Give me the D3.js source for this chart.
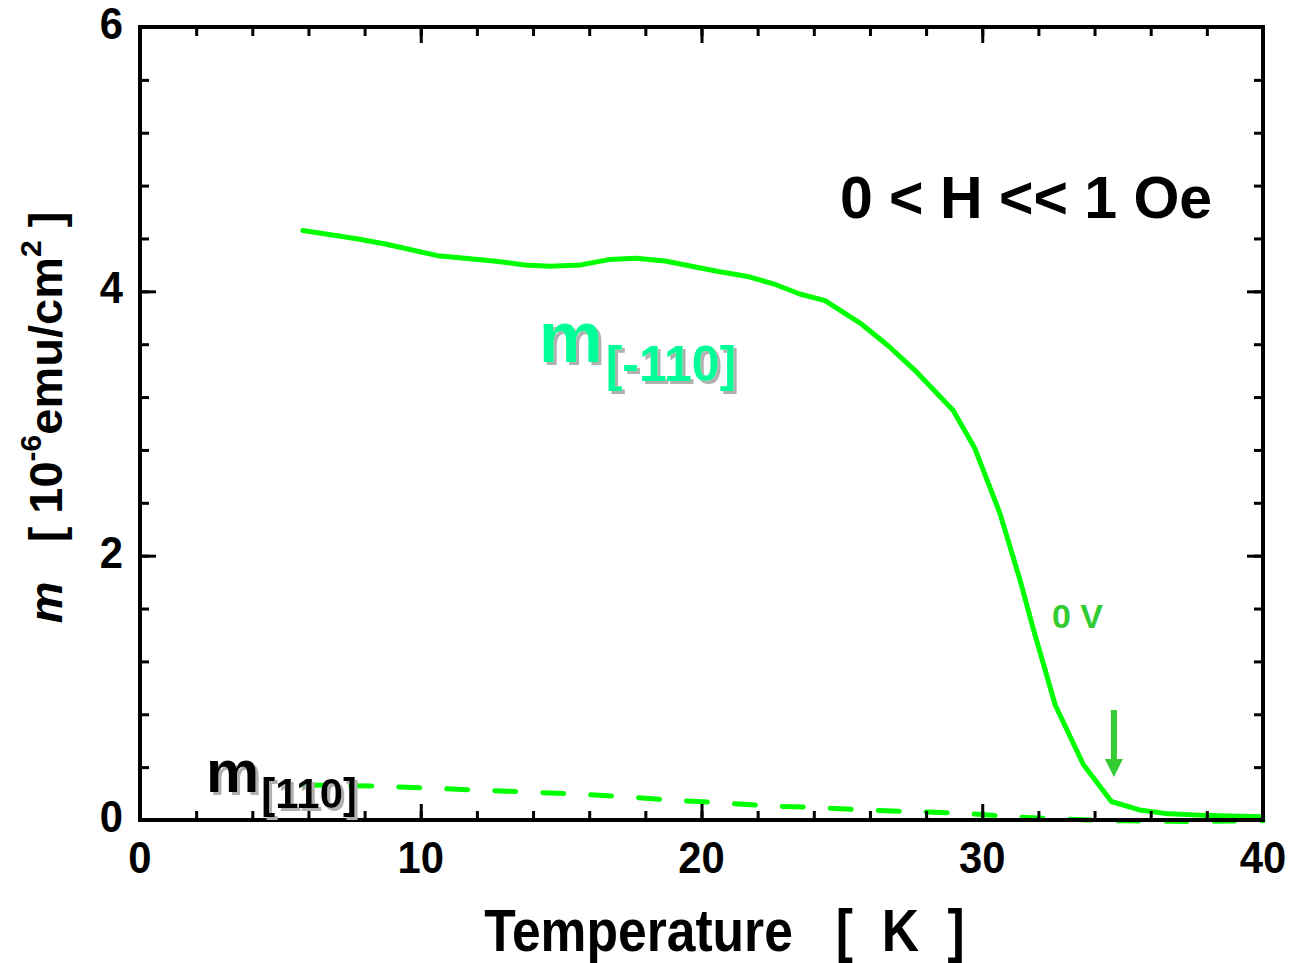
<!DOCTYPE html>
<html>
<head>
<meta charset="utf-8">
<script src="https://cdnjs.cloudflare.com/ajax/libs/d3/7.8.5/d3.min.js"></script>
<style>
  body { margin: 0; background: #fff; }
  text { font-family: "Liberation Sans", Arial, sans-serif; font-weight: bold; }
</style>
</head>
<body>
<div id="chart"></div>
<script>
// m along [-110], solid line (T in K, m in 1e-6 emu/cm^2)
const tempA = [5.8, 7.66, 8.7, 10.6, 12.6, 13.7, 14.6, 15.7, 16.7, 17.66, 18.7, 20.6, 21.7, 22.65, 23.5, 24.4,
               25.65, 26.64, 27.66, 28.96, 29.74, 30.63, 31.34, 31.8, 32.6, 33.6, 34.6, 35.6, 36.5, 37.9, 38.8, 40];
const mA = [4.46, 4.40, 4.36, 4.27, 4.23, 4.20, 4.19, 4.20, 4.24, 4.25, 4.23, 4.15, 4.11, 4.05, 3.98, 3.93,
            3.76, 3.59, 3.39, 3.10, 2.81, 2.32, 1.82, 1.46, 0.87, 0.42, 0.14, 0.076, 0.05, 0.035, 0.03, 0.025];

// m along [110], dashed line
const tempB = [5.8, 8.48, 10.2, 12.0, 13.7, 15.4, 17.2, 18.9, 20.6, 22.4, 24.1, 25.8, 27.5, 29.3, 31.0, 32.8, 34.5, 36.2, 37.4, 39.6, 40];
const mB = [0.265, 0.257, 0.242, 0.227, 0.212, 0.197, 0.178, 0.151, 0.131, 0.106, 0.095, 0.076, 0.063, 0.051, 0.025, 0.008, -0.005, -0.008, -0.012, -0.005, -0.005];

const xTicks = [0, 10, 20, 30, 40];
const yTicks = [0, 2, 4, 6];

const width = 1291, height = 963;
const margin = {left: 140, right: 28, top: 27, bottom: 143};

const svg = d3.select("#chart").append("svg")
    .attr("width", width)
    .attr("height", height);

// grey drop shadow used by the curve labels
svg.append("defs").append("filter")
    .attr("id", "shadow")
    .attr("x", "-10%").attr("y", "-10%").attr("width", "130%").attr("height", "130%")
    .append("feDropShadow")
    .attr("dx", 3).attr("dy", 3).attr("stdDeviation", 0.6)
    .attr("flood-color", "#b0b0b0").attr("flood-opacity", 1);

const x = d3.scaleLinear().domain([0, 40]).range([margin.left, width - margin.right]);
const y = d3.scaleLinear().domain([0, 6]).range([height - margin.bottom, margin.top]);

const green = "#00ff00";

// curves
const line = d3.line().x(d => x(d[0])).y(d => y(d[1]));

svg.append("path")
    .datum(tempB.map((t, i) => [t, mB[i]]))
    .attr("d", line)
    .attr("fill", "none")
    .attr("stroke", green)
    .attr("stroke-width", 5)
    .attr("stroke-linecap", "round")
    .attr("stroke-dasharray", "21 27");

svg.append("path")
    .datum(tempA.map((t, i) => [t, mA[i]]))
    .attr("d", line)
    .attr("fill", "none")
    .attr("stroke", green)
    .attr("stroke-width", 5)
    .attr("stroke-linejoin", "round")
    .attr("stroke-linecap", "round");

// axes, ticks inside on all four sides
function tickAxis(axis) {
    return g => {
        g.call(axis);
        g.select(".domain").remove();
        g.selectAll(".tick line").attr("stroke", "#000").attr("stroke-width", 3);
        g.selectAll(".tick text").remove();
    };
}
const xMinor = d3.range(0, 41, 2), yMinor = d3.range(0, 6.01, 0.4);
const bottomY = y(0), topY = y(6), leftX = x(0), rightX = x(40);

svg.append("g").attr("transform", `translate(0,${bottomY})`)
    .call(tickAxis(d3.axisBottom(x).tickValues(xMinor).tickSize(-9)));
svg.append("g").attr("transform", `translate(0,${bottomY})`)
    .call(tickAxis(d3.axisBottom(x).tickValues(xTicks).tickSize(-16)));
svg.append("g").attr("transform", `translate(0,${topY})`)
    .call(tickAxis(d3.axisTop(x).tickValues(xMinor).tickSize(-9)));
svg.append("g").attr("transform", `translate(0,${topY})`)
    .call(tickAxis(d3.axisTop(x).tickValues(xTicks).tickSize(-16)));
svg.append("g").attr("transform", `translate(${leftX},0)`)
    .call(tickAxis(d3.axisLeft(y).tickValues(yMinor).tickSize(-9)));
svg.append("g").attr("transform", `translate(${leftX},0)`)
    .call(tickAxis(d3.axisLeft(y).tickValues(yTicks).tickSize(-16)));
svg.append("g").attr("transform", `translate(${rightX},0)`)
    .call(tickAxis(d3.axisRight(y).tickValues(yMinor).tickSize(-9)));
svg.append("g").attr("transform", `translate(${rightX},0)`)
    .call(tickAxis(d3.axisRight(y).tickValues(yTicks).tickSize(-16)));

svg.append("rect")
    .attr("x", leftX).attr("y", topY)
    .attr("width", rightX - leftX).attr("height", bottomY - topY)
    .attr("fill", "none").attr("stroke", "#000").attr("stroke-width", 4);

// tick labels
svg.selectAll(".xlab").data(xTicks).enter().append("text")
    .attr("transform", d => `translate(${x(d)},${bottomY + 53}) scale(0.95,1)`)
    .attr("text-anchor", "middle")
    .attr("font-size", 44)
    .text(d => d);

svg.selectAll(".ylab").data(yTicks).enter().append("text")
    .attr("transform", d => `translate(${leftX - 17},${y(d) + 12}) scale(0.95,1)`)
    .attr("text-anchor", "end")
    .attr("font-size", 44)
    .text(d => d);

// axis titles
svg.append("text")
    .attr("transform", `translate(${(leftX + rightX) / 2 + 23},${height - 12}) scale(0.86,1)`)
    .attr("text-anchor", "middle")
    .attr("font-size", 60)
    .attr("xml:space", "preserve")
    .text("Temperature   [  K  ]");

const yTitle = svg.append("text")
    .attr("transform", `translate(62,${(topY + bottomY) / 2 - 6}) rotate(-90)`)
    .attr("text-anchor", "middle")
    .attr("font-size", 47)
    .attr("xml:space", "preserve");
yTitle.append("tspan").attr("font-style", "italic").text("m");
yTitle.append("tspan").text("   [ 10");
yTitle.append("tspan").attr("font-size", 30).attr("dy", -21).text("-6");
yTitle.append("tspan").attr("dy", 21).text("emu/cm");
yTitle.append("tspan").attr("font-size", 30).attr("dy", -21).text("2");
yTitle.append("tspan").attr("dy", 21).text(" ]");

// annotations
function subLabel(t, m, main, sub, fill, bigSize, subSize, subDx, subDy) {
    const txt = svg.append("text")
        .attr("x", x(t)).attr("y", y(m))
        .attr("fill", fill)
        .attr("filter", "url(#shadow)");
    txt.append("tspan").attr("font-size", bigSize).text(main);
    txt.append("tspan").attr("font-size", subSize).attr("dx", subDx).attr("dy", subDy).text(sub);
}
subLabel(14.2, 3.465, "m", "[-110]", "#00ff99", 72, 50, 3, 19);
subLabel(2.35, 0.214, "m", "[110]", "#000", 60, 42, 2, 16);

svg.append("text")
    .attr("x", x(24.93)).attr("y", y(4.555))
    .attr("font-size", 59)
    .text("0 < H << 1 Oe");

svg.append("text")
    .attr("x", x(32.48)).attr("y", y(1.453))
    .attr("font-size", 34)
    .attr("fill", "#33cc33")
    .text("0 V");

// arrow marking the transition
const arrowT = 34.69, arrowTop = 0.832, arrowTip = 0.325;
svg.append("line")
    .attr("x1", x(arrowT)).attr("x2", x(arrowT))
    .attr("y1", y(arrowTop)).attr("y2", y(arrowTip) - 14)
    .attr("stroke", "#33cc33").attr("stroke-width", 6);
svg.append("path")
    .attr("d", `M${x(arrowT) - 9},${y(arrowTip) - 18} L${x(arrowT) + 9},${y(arrowTip) - 18} L${x(arrowT)},${y(arrowTip)} Z`)
    .attr("fill", "#33cc33");
</script>
</body>
</html>
